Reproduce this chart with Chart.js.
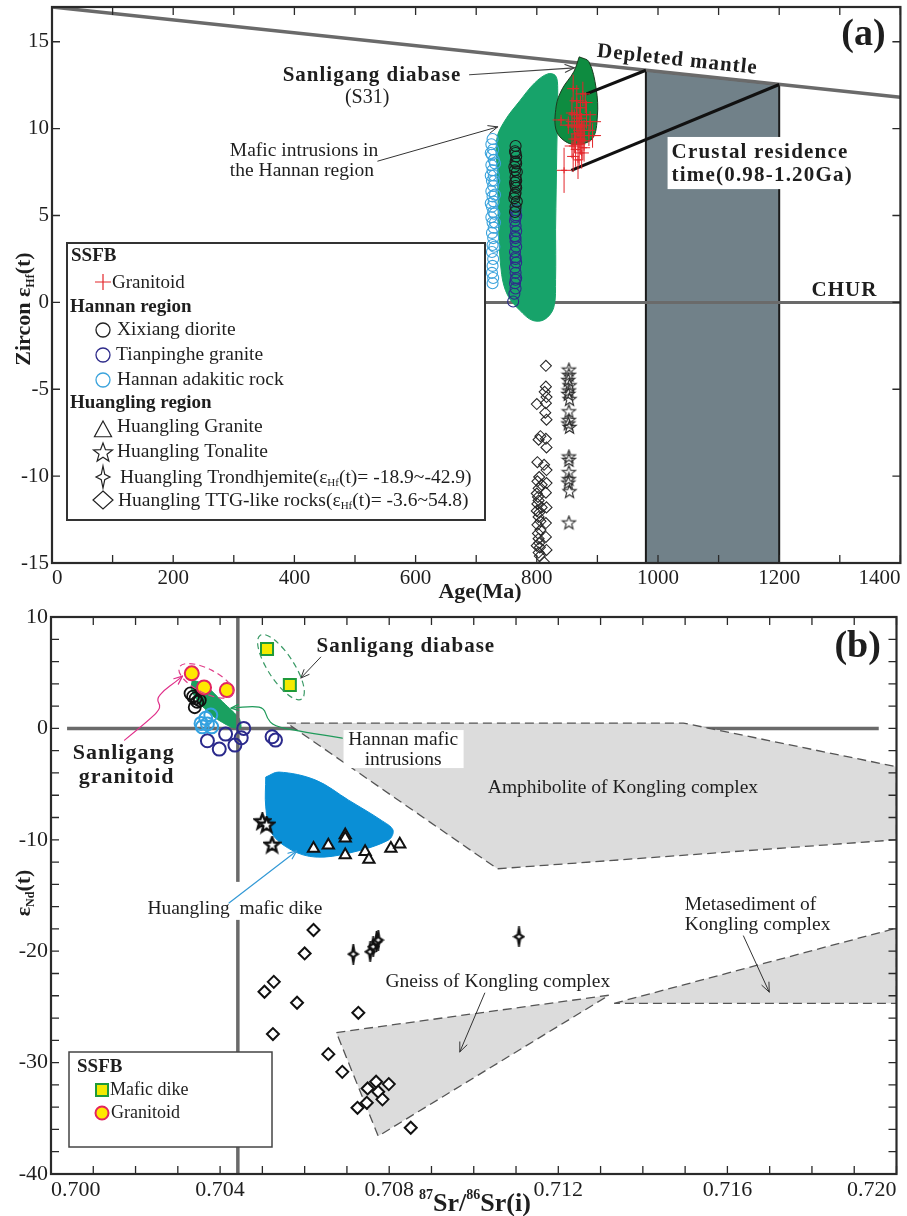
<!DOCTYPE html>
<html>
<head>
<meta charset="utf-8">
<script src="https://cdn.jsdelivr.net/npm/chart.js@4.4.0/dist/chart.umd.min.js"></script>
<style>
  html, body { margin: 0; padding: 0; background: #fff; }
  #wrap { position: relative; width: 907px; height: 1216px; overflow: hidden; }
  #chartA { position: absolute; left: 0; top: 0; }
  #chartB { position: absolute; left: 0; top: 600px; }
</style>
</head>
<body>
<div id="wrap">
  <canvas id="chartA" width="907" height="610"></canvas>
  <canvas id="chartB" width="907" height="616"></canvas>
</div>
<script>
// ---------------- panel (a): age (Ma) vs zircon eHf(t) ----------------
const dmLine = [[0, 17.0], [1400, 11.8]];
const churLine = [[716, 0], [1400, 0]];
const residenceBox = [[980, -15], [980, 13.36], [1200, 12.54], [1200, -15], [980, -15]];
const residenceLink1 = [[882, 12.0], [980, 13.36]];
const residenceLink2 = [[857, 7.6], [1200, 12.54]];
const hannanFieldA = [[831, 4.21], [831, 1.32], [828, -0.29], [813, -0.98], [793, -1.04], [772, -0.46], [752, 0.40],
  [742, 1.61], [737, 4.21], [735.5, 7.1], [734, 9.4], [747, 10.44], [772, 11.6], [796.5, 12.63], [818, 13.15],
  [831, 13.04], [834.5, 12.29], [833, 8.83], [831, 4.21]];
const s31Field = [[870, 14.13], [886, 13.85], [898, 12.29], [900, 10.73], [891, 9.4], [858, 9.1], [833, 9.81],
  [832, 11.3], [842, 12.29], [861, 13.27], [870, 14.13]];
const granitoidA = [[862, 10.4], [866, 10.1], [870, 10.6], [858, 10.9], [874, 10.2], [868, 9.7], [862, 9.4], [878, 9.9],
  [852, 10.2], [872, 11.2], [882, 10.8], [866, 11.6], [860, 12.3], [876, 12.0], [886, 9.6], [870, 9.1], [864, 8.8],
  [874, 8.6], [868, 8.2], [878, 8.9], [858, 9.0], [888, 10.4], [840, 10.5], [845, 7.6], [872, 9.4], [866, 10.8],
  [880, 11.5], [892, 9.6], [876, 9.3], [860, 8.4]];
const granAgeErr = [14, 16, 12, 10, 15, 12, 10, 18, 14, 10, 16, 12, 10, 12, 20, 10, 8, 12, 8, 10, 12, 18, 14, 12, 10, 14, 12, 12, 14, 10];
const granEpsErr = [0.7, 0.8, 0.6, 0.9, 0.7, 1.0, 0.8, 0.6, 0.5, 0.7, 0.8, 0.9, 0.8, 0.7, 0.6, 1.2, 1.0, 0.9, 1.1, 0.8,
  0.7, 0.6, 0.3, 1.3, 0.9, 0.8, 0.6, 0.7, 1.1, 0.9];
const adakiticA = [[727, 9.4], [725, 9.1], [728, 8.8], [726, 8.5], [729, 8.2], [725, 7.9], [727, 7.6], [729, 7.3], [726, 7.0],
  [728, 6.7], [725, 6.4], [727, 6.1], [729, 5.8], [726, 5.5], [728, 5.2], [725, 4.9], [727, 4.6], [729, 4.3], [726, 4.0],
  [728, 3.7], [727, 3.3], [726, 2.9], [728, 2.5], [727, 2.1], [726, 1.7], [728, 1.4], [727, 1.1], [731, 8.0], [731, 6.2],
  [731, 4.6], [730, 3.2], [724, 7.3], [724, 5.7], [724, 8.6], [730, 7.0], [730, 5.1]];
const xixiangA = [[765, 9.0], [764, 8.7], [766, 8.4], [765, 8.1], [763, 7.8], [767, 7.5], [765, 7.2], [764, 6.9], [766, 6.6],
  [765, 6.3], [763, 6.0], [767, 5.8], [765, 5.5], [764, 7.6], [766, 8.0], [765, 6.7], [764, 6.2], [766, 7.0], [765, 8.6], [764, 5.2]];
const tianpingheA = [[765, 5.3], [766, 5.0], [764, 4.7], [765, 4.4], [766, 4.1], [764, 3.8], [765, 3.5], [766, 3.2], [764, 2.9],
  [765, 2.6], [766, 2.3], [764, 2.0], [765, 1.7], [766, 1.4], [764, 1.1], [765, 0.8], [763, 0.5], [761, 0.05], [765, 4.9],
  [765, 3.7], [765, 2.5], [765, 1.3]];
const ttgA = [[815, -3.65], [815, -4.85], [813, -5.15], [816, -5.45], [815, -5.8], [800, -5.85], [814, -6.35], [816, -6.75],
  [806, -7.7], [803, -7.9], [815, -7.85], [816, -8.35], [801, -9.2], [812, -9.35], [816, -9.65], [804, -10.05], [816, -10.4],
  [803, -10.7], [815, -10.95], [803, -11.4], [816, -11.8], [803, -12.35], [815, -12.7], [806, -13.1], [815, -13.5], [804, -13.85],
  [816, -14.25], [805, -14.6], [812, -14.95], [800, -11.0], [800, -12.0], [802, -13.3], [800, -14.0], [808, -11.8], [801, -10.3],
  [806, -12.6], [808, -10.5], [801, -11.6], [803, -14.4], [802, -11.2], [804, -12.1], [801, -12.8], [803, -13.6], [805, -14.1]];
const tonaliteA = [[853, -3.9], [853, -4.2], [852, -4.5], [854, -4.8], [853, -5.1], [852, -5.3], [854, -5.6], [853, -6.3],
  [853, -6.8], [852, -7.0], [854, -7.2], [853, -8.9], [853, -9.1], [853, -9.8], [853, -10.2], [852, -10.4], [854, -10.9], [853, -12.7]];

// ---------------- panel (b): 87Sr/86Sr(i) vs eNd(t) ----------------
const zeroLineB = [[0.70038, 0], [0.71958, 0]];
const vertLineB = [[0.70442, 10], [0.70442, -40]];
const amphibolite = [[0.70558, 0.48], [0.71496, 0.48], [0.720, -3.44], [0.720, -10.0], [0.71056, -12.6], [0.70558, 0.48]];
const gneiss = [[0.70675, -27.3], [0.71320, -23.95], [0.70774, -36.6], [0.70675, -27.3]];
const metasediment = [[0.71332, -24.68], [0.720, -17.93], [0.720, -24.68], [0.71332, -24.68]];
const maficDike = [[0.70508, -4.37], [0.70539, -3.92], [0.70626, -4.64], [0.70704, -6.44], [0.70781, -8.24], [0.70809, -9.13],
  [0.70798, -10.03], [0.70704, -11.2], [0.70626, -11.55], [0.70569, -10.92], [0.70522, -9.4], [0.70508, -7.05], [0.70508, -4.37]];
const hannanFieldB = [[0.70334, 4.34], [0.70362, 3.98], [0.70409, 2.27], [0.70445, 0.92], [0.70449, 0.03], [0.70426, 0.12],
  [0.70386, 1.01], [0.70351, 2.27], [0.70332, 3.44], [0.70334, 4.34]];
const granitoidB = [[0.70333, 4.94], [0.70362, 3.68], [0.70416, 3.44]];
const diabaseB = [[0.70511, 7.12], [0.70565, 3.89]];
const xixiangB = [[0.70330, 3.15], [0.70342, 2.70], [0.70352, 2.52], [0.70340, 1.90], [0.70346, 2.38], [0.70336, 2.85]];
const adakiticB = [[0.70355, 0.45], [0.70366, 0.90], [0.70380, 0.14], [0.70358, 0.14], [0.70378, 1.20], [0.70370, 0.40]];
const tianpingheB = [[0.70370, -1.11], [0.70398, -1.86], [0.70413, -0.51], [0.70435, -1.5], [0.70450, -0.84], [0.70456, 0.0],
  [0.70523, -0.75], [0.70531, -1.05]];
const tonaliteB = [[0.70500, -8.38], [0.70510, -8.68], [0.70523, -10.48]];
const graniteB = [[0.70621, -10.77], [0.70656, -10.48], [0.70696, -9.58], [0.70696, -9.85], [0.70696, -11.37], [0.70743, -11.08],
  [0.70752, -11.76], [0.70804, -10.77], [0.70825, -10.41]];
const ttgB = [[0.70621, -18.1], [0.70600, -20.2], [0.70527, -22.75], [0.70505, -23.64], [0.70582, -24.63], [0.70727, -25.53],
  [0.70525, -27.44], [0.70656, -29.24], [0.70689, -30.83], [0.70749, -32.32], [0.70769, -31.72], [0.70799, -31.93],
  [0.70774, -32.62], [0.70784, -33.3], [0.70725, -34.06], [0.70747, -33.61], [0.70851, -35.85]];
const trondhjemiteB = [[0.70715, -20.26], [0.70755, -20.05], [0.70762, -19.6], [0.70770, -19.16], [0.70774, -19.0], [0.71107, -18.7]];

// ---------------- helpers ----------------
const SERIF = '"Liberation Serif", "Times New Roman", serif';
const INK = '#1e1e1e';
const RED = '#e3262b';
const f = (size, bold) => (bold ? 'bold ' : '') + size + 'px ' + SERIF;
const xy = arr => arr.map(p => ({ x: p[0], y: p[1] }));

function symPath(ctx, kind, x, y, o) {
  ctx.beginPath();
  if (kind === 'circle') ctx.arc(x, y, o.r, 0, 2 * Math.PI);
  else if (kind === 'square') ctx.rect(x - o.r, y - o.r, 2 * o.r, 2 * o.r);
  else if (kind === 'diamond') {
    ctx.moveTo(x, y - o.h); ctx.lineTo(x + o.w, y); ctx.lineTo(x, y + o.h); ctx.lineTo(x - o.w, y); ctx.closePath();
  } else if (kind === 'triangle') {
    ctx.moveTo(x, y - o.r); ctx.lineTo(x + o.r * 0.95, y + o.r * 0.75); ctx.lineTo(x - o.r * 0.95, y + o.r * 0.75); ctx.closePath();
  } else if (kind === 'star') {
    for (let i = 0; i < 10; i++) {
      const rad = i % 2 ? o.r * 0.42 : o.r, a = -Math.PI / 2 + i * Math.PI / 5;
      ctx.lineTo(x + rad * Math.cos(a), y + rad * Math.sin(a));
    }
    ctx.closePath();
  } else if (kind === 'sparkle') {
    const k = 0.25;
    ctx.moveTo(x, y - o.h); ctx.lineTo(x + o.w * k, y - o.h * k); ctx.lineTo(x + o.w, y); ctx.lineTo(x + o.w * k, y + o.h * k);
    ctx.lineTo(x, y + o.h); ctx.lineTo(x - o.w * k, y + o.h * k); ctx.lineTo(x - o.w, y); ctx.lineTo(x - o.w * k, y - o.h * k);
    ctx.closePath();
  } else if (kind === 'cross') {
    ctx.moveTo(x - o.r, y); ctx.lineTo(x + o.r, y); ctx.moveTo(x, y - o.r); ctx.lineTo(x, y + o.r);
  }
}
function drawSym(ctx, kind, x, y, o) {
  ctx.save();
  ctx.lineWidth = o.lw || 1; ctx.strokeStyle = o.stroke || INK; ctx.lineJoin = 'miter';
  symPath(ctx, kind, x, y, o);
  if (o.fill) { ctx.fillStyle = o.fill; ctx.fill(); }
  ctx.stroke();
  ctx.restore();
}
function symCanvas(w, h, kind, o) {
  const c = document.createElement('canvas');
  c.width = w; c.height = h;
  drawSym(c.getContext('2d'), kind, w / 2, h / 2, o);
  return c;
}
const starA = symCanvas(17, 17, 'star', { r: 7, stroke: '#2a2a2a', lw: 1.1 });
const starB = symCanvas(19, 19, 'star', { r: 8, stroke: '#111', lw: 2.4, fill: '#fff' });
const sparkleB = symCanvas(13, 21, 'sparkle', { w: 4.5, h: 8.5, stroke: '#111', lw: 2.2, fill: '#fff' });

function label(ctx, s, p, font, align, rot, spacing) {
  ctx.save();
  ctx.translate(p[0], p[1]);
  if (rot) ctx.rotate(rot);
  ctx.font = font; ctx.fillStyle = INK;
  if (spacing) ctx.letterSpacing = spacing + 'px';
  ctx.textAlign = align || 'left'; ctx.textBaseline = 'middle';
  ctx.fillText(s, 0, 0);
  ctx.restore();
}
// parts: [text, size, bold, dy]; drawn on an alphabetic baseline
function rich(ctx, parts, x, y, align) {
  let w = 0;
  parts.forEach(p => { ctx.font = f(p[1], p[2]); w += ctx.measureText(p[0]).width; });
  let cx = align === 'center' ? x - w / 2 : x;
  ctx.textAlign = 'left'; ctx.textBaseline = 'alphabetic'; ctx.fillStyle = INK;
  parts.forEach(p => {
    ctx.font = f(p[1], p[2]);
    ctx.fillText(p[0], cx, y + (p[3] || 0));
    cx += ctx.measureText(p[0]).width;
  });
}
function curve(ctx, pts, color, lw, head) {
  ctx.save();
  ctx.strokeStyle = color; ctx.lineWidth = lw; ctx.lineJoin = 'round'; ctx.lineCap = 'round';
  ctx.beginPath(); ctx.moveTo(pts[0][0], pts[0][1]);
  for (let i = 1; i < pts.length - 1; i++) {
    ctx.quadraticCurveTo(pts[i][0], pts[i][1], (pts[i][0] + pts[i + 1][0]) / 2, (pts[i][1] + pts[i + 1][1]) / 2);
  }
  const n = pts.length;
  ctx.lineTo(pts[n - 1][0], pts[n - 1][1]);
  ctx.stroke();
  if (head) {
    const [x2, y2] = pts[n - 1], [x1, y1] = pts[n - 2];
    const a = Math.atan2(y2 - y1, x2 - x1);
    ctx.beginPath();
    ctx.moveTo(x2 - head * Math.cos(a - 0.4), y2 - head * Math.sin(a - 0.4));
    ctx.lineTo(x2, y2);
    ctx.lineTo(x2 - head * Math.cos(a + 0.4), y2 - head * Math.sin(a + 0.4));
    ctx.stroke();
  }
  ctx.restore();
}
function ellipse(ctx, c, a, b, rot, color) {
  ctx.save();
  ctx.strokeStyle = color; ctx.lineWidth = 1.2; ctx.setLineDash([6, 4]);
  ctx.beginPath(); ctx.ellipse(c[0], c[1], a, b, rot, 0, 2 * Math.PI); ctx.stroke();
  ctx.restore();
}
function frame(chart) {
  const { ctx, chartArea: a } = chart, xs = chart.scales.x, ys = chart.scales.y, len = 8;
  ctx.save();
  ctx.strokeStyle = '#2a2a2a'; ctx.lineWidth = 1.3; ctx.beginPath();
  xs.ticks.forEach(t => {
    const px = xs.getPixelForValue(t.value);
    ctx.moveTo(px, a.bottom); ctx.lineTo(px, a.bottom - len);
    ctx.moveTo(px, a.top); ctx.lineTo(px, a.top + len);
  });
  ys.ticks.forEach(t => {
    const py = ys.getPixelForValue(t.value);
    ctx.moveTo(a.left, py); ctx.lineTo(a.left + len, py);
    ctx.moveTo(a.right, py); ctx.lineTo(a.right - len, py);
  });
  ctx.stroke();
  ctx.lineWidth = 2.2;
  ctx.strokeRect(a.left, a.top, a.right - a.left, a.bottom - a.top);
  ctx.restore();
}

function shapeDS(label, data, fill, stroke, extra) {
  return Object.assign({ type: 'line', label, data: xy(data), fill: 'shape', backgroundColor: fill,
    borderColor: stroke, borderWidth: 1, pointRadius: 0, tension: 0 }, extra || {});
}
function lineDS(label, data, color, width) {
  return { type: 'line', label, data: xy(data), fill: false, borderColor: color, borderWidth: width, pointRadius: 0, tension: 0 };
}
function pointDS(label, data, style, extra) {
  return Object.assign({ type: 'scatter', label, data: xy(data), pointStyle: style, showLine: false,
    backgroundColor: 'rgba(0,0,0,0)' }, extra);
}
function axis(min, max, step, size, fixed, cb, extraTicks) {
  return {
    type: 'linear', min, max,
    grid: { display: false, drawTicks: false }, border: { display: false },
    ticks: Object.assign({ stepSize: step, autoSkip: false, maxRotation: 0, includeBounds: false, padding: 3,
      color: INK, font: { family: SERIF, size }, callback: cb }, extraTicks || {}),
    afterFit: s => {
      if (s.isHorizontal()) s.height = fixed; else s.width = fixed;
      s.paddingTop = 0; s.paddingBottom = 0; s.paddingLeft = 0; s.paddingRight = 0;
    }
  };
}
function baseOptions(pad, scales) {
  return {
    responsive: false, animation: false, devicePixelRatio: 1, events: [],
    layout: { padding: pad },
    plugins: { legend: { display: false }, tooltip: { enabled: false } },
    scales
  };
}

// ---------------- chart (a) ----------------
const decorA = {
  id: 'decorA',
  afterDatasetsDraw(chart) {
    const ctx = chart.ctx, xs = chart.scales.x, ys = chart.scales.y;
    const P = (a, e) => [xs.getPixelForValue(a), ys.getPixelForValue(e)];
    ctx.save(); ctx.strokeStyle = RED; ctx.lineWidth = 1; ctx.beginPath();
    granitoidA.forEach((p, i) => {
      const [x, y] = P(p[0], p[1]);
      const dx = xs.getPixelForValue(p[0] + granAgeErr[i]) - x;
      const dy = y - ys.getPixelForValue(p[1] + granEpsErr[i]);
      ctx.moveTo(x - dx, y); ctx.lineTo(x + dx, y); ctx.moveTo(x, y - dy); ctx.lineTo(x, y + dy);
    });
    ctx.stroke(); ctx.restore();

    const d0 = P(dmLine[0][0], dmLine[0][1]), d1 = P(dmLine[1][0], dmLine[1][1]);
    const ang = Math.atan2(d1[1] - d0[1], d1[0] - d0[0]);
    label(ctx, '(a)', P(1339, 15.35), f(38, true), 'center');
    label(ctx, 'Depleted mantle', P(1032, 13.95), f(21, true), 'center', ang, 1);
    label(ctx, 'Sanligang diabase', P(528, 13.04), f(21, true), 'center', 0, 1);
    label(ctx, '(S31)', P(520, 11.77), f(20), 'center');
    curve(ctx, [P(689, 13.1), P(862, 13.5)], '#444', 1.2, 10);
    label(ctx, 'Mafic intrusions in', P(293.5, 8.71), f(19.5));
    label(ctx, 'the Hannan region', P(293.5, 7.56), f(19.5));
    curve(ctx, [P(537.6, 8.13), P(735.5, 10.1)], '#333', 1, 10);
    const b0 = P(1015.8, 9.52), b1 = P(1324.2, 6.52);
    ctx.fillStyle = '#fff'; ctx.fillRect(b0[0], b0[1], b1[0] - b0[0], b1[1] - b0[1]);
    label(ctx, 'Crustal residence', P(1022.4, 8.65), f(21, true), 'left', 0, 1.2);
    label(ctx, 'time(0.98-1.20Ga)', P(1022.4, 7.27), f(21, true), 'left', 0, 1.2);
    label(ctx, 'CHUR', P(1307.7, 0.69), f(21, true), 'center', 0, 1);
  },
  afterDraw(chart) {
    const ctx = chart.ctx;
    ctx.save();
    ctx.fillStyle = '#fff'; ctx.fillRect(67, 243, 418, 277);
    ctx.strokeStyle = '#333'; ctx.lineWidth = 2; ctx.strokeRect(67, 243, 418, 277);
    label(ctx, 'SSFB', [71, 256], f(19, true));
    drawSym(ctx, 'cross', 103, 282, { r: 8, stroke: RED, lw: 1.2 });
    label(ctx, 'Granitoid', [112, 283], f(19));
    label(ctx, 'Hannan region', [70, 307], f(19, true));
    drawSym(ctx, 'circle', 103, 330, { r: 7, stroke: '#222', lw: 1.3 });
    label(ctx, 'Xixiang diorite', [117, 330], f(19.5));
    drawSym(ctx, 'circle', 103, 355, { r: 7, stroke: '#2e2b8a', lw: 1.3 });
    label(ctx, 'Tianpinghe granite', [116, 355], f(19.5));
    drawSym(ctx, 'circle', 103, 380, { r: 7, stroke: '#3ba3dc', lw: 1.3 });
    label(ctx, 'Hannan adakitic rock', [117, 380], f(19.5));
    label(ctx, 'Huangling region', [70, 403], f(19, true));
    drawSym(ctx, 'triangle', 103, 430, { r: 9, stroke: '#222', lw: 1.2 });
    label(ctx, 'Huangling Granite', [117, 427], f(19.5));
    drawSym(ctx, 'star', 103, 453, { r: 10, stroke: '#222', lw: 1.2 });
    label(ctx, 'Huangling Tonalite', [117, 452], f(19.5));
    drawSym(ctx, 'sparkle', 103, 477, { w: 7, h: 11, stroke: '#222', lw: 1.2 });
    rich(ctx, [['Huangling Trondhjemite(ε', 19.5], ['Hf', 11, false, 3], ['(t)= -18.9~-42.9)', 19.5]], 120, 483);
    drawSym(ctx, 'diamond', 103, 500, { w: 10, h: 9, stroke: '#222', lw: 1.2 });
    rich(ctx, [['Huangling TTG-like rocks(ε', 19.5], ['Hf', 11, false, 3], ['(t)= -3.6~54.8)', 19.5]], 118, 506);

    label(ctx, 'Age(Ma)', [480, 592], f(22, true), 'center');
    ctx.translate(22, 309); ctx.rotate(-Math.PI / 2);
    rich(ctx, [['Zircon ε', 22, true], ['Hf', 12, true, 4], ['(t)', 22, true]], 0, 8, 'center');
    ctx.restore();
    frame(chart);
  }
};

const layersA = [
  shapeDS('Crustal residence time', residenceBox, '#718189', '#1a1a1a', { borderWidth: 2 }),
  lineDS('CHUR', churLine, '#6a6a6a', 3),
  lineDS('Depleted mantle', dmLine, '#6a6a6a', 3.5),
  shapeDS('Mafic intrusions in the Hannan region', hannanFieldA, '#17a36a', '#17a36a', { tension: 0.35 }),
  shapeDS('Sanligang diabase (S31)', s31Field, '#0e8c40', '#1d3a20', { tension: 0.35 }),
  lineDS('residence link 1', residenceLink1, '#111', 3),
  lineDS('residence link 2', residenceLink2, '#111', 3),
  pointDS('Hannan adakitic rock', adakiticA, 'circle', { pointRadius: 5.5, borderColor: '#3ba3dc', borderWidth: 1.1 }),
  pointDS('Tianpinghe granite', tianpingheA, 'circle', { pointRadius: 5.5, borderColor: '#2e2b8a', borderWidth: 1.1 }),
  pointDS('Xixiang diorite', xixiangA, 'circle', { pointRadius: 5.5, borderColor: '#1a1a1a', borderWidth: 1.1 }),
  pointDS('Huangling TTG-like rocks', ttgA, 'rectRot', { pointRadius: 5.5, borderColor: '#2a2a2a', borderWidth: 1.1 }),
  pointDS('Huangling Tonalite', tonaliteA, starA, {}),
  pointDS('Granitoid', granitoidA, 'cross', { pointRadius: 3, borderColor: RED, borderWidth: 1 })
];

new Chart(document.getElementById('chartA'), {
  type: 'scatter',
  data: { datasets: layersA.slice().reverse() },
  options: baseOptions({ top: 7, right: 6, left: 0, bottom: 0 }, {
    x: axis(0, 1400, 100, 21, 47, v => (v % 200 === 0 ? String(v) : ''), { align: 'inner' }),
    y: axis(-15, 17, 5, 21, 52, v => String(v))
  }),
  plugins: [decorA]
});

// ---------------- chart (b) ----------------
const decorB = {
  id: 'decorB',
  afterDatasetsDraw(chart) {
    const ctx = chart.ctx, xs = chart.scales.x, ys = chart.scales.y;
    const P = (a, e) => [xs.getPixelForValue(a), ys.getPixelForValue(e)];
    label(ctx, '(b)', P(0.71908, 7.3), f(38, true), 'center');
    label(ctx, 'Sanligang diabase', P(0.70628, 7.3), f(21, true), 'left', 0, 1);
    curve(ctx, [P(0.70638, 6.40), P(0.70591, 4.52)], '#333', 1, 9);
    ellipse(ctx, P(0.70544, 5.50), 38, 13, 57 * Math.PI / 180, '#3a9a66');
    ellipse(ctx, P(0.70367, 4.27), 30, 12, 27 * Math.PI / 180, '#e0408a');
    label(ctx, 'Sanligang', P(0.70172, -2.22), f(22, true), 'center', 0, 1);
    label(ctx, 'granitoid', P(0.70179, -4.35), f(22, true), 'center', 0, 1);
    curve(ctx, [P(0.70174, -1.05), P(0.70238, 0.92), P(0.70261, 1.91), P(0.70249, 2.63), P(0.70268, 3.44),
      P(0.70294, 4.16), P(0.70311, 4.69)], '#e0308a', 1.2, 9);
    const h0 = P(0.70692, -0.15), h1 = P(0.70976, -3.56);
    ctx.fillStyle = '#fff'; ctx.fillRect(h0[0], h0[1], h1[0] - h0[0], h1[1] - h0[1]);
    label(ctx, 'Hannan mafic', P(0.70833, -1.05), f(19.5), 'center');
    label(ctx, 'intrusions', P(0.70833, -2.85), f(19.5), 'center');
    curve(ctx, [P(0.70689, -0.87), P(0.70586, -0.24), P(0.70527, 0.21), P(0.70511, 0.92), P(0.70504, 1.82),
      P(0.70480, 2.0), P(0.70426, 1.82)], '#1f9a5a', 1.2, 8);
    label(ctx, 'Amphibolite of Kongling complex', P(0.71353, -5.35), f(19.5), 'center');
    const m = P(0.70228, -16.2);
    ctx.font = f(19.5);
    const mw = ctx.measureText('Huangling  mafic dike').width;
    ctx.fillStyle = '#fff'; ctx.fillRect(m[0] - 3, m[1] - 27, mw + 6, 38);
    label(ctx, 'Huangling  mafic dike', m, f(19.5));
    curve(ctx, [P(0.70421, -15.67), P(0.70581, -11.0)], '#3399d6', 1.2, 9);
    label(ctx, 'Gneiss of Kongling complex', P(0.70791, -22.77), f(19.5));
    curve(ctx, [P(0.71026, -23.76), P(0.70967, -29.04)], '#333', 1, 10);
    label(ctx, 'Metasediment of', P(0.71499, -15.85), f(19.5));
    label(ctx, 'Kongling complex', P(0.71499, -17.65), f(19.5));
    curve(ctx, [P(0.71638, -18.63), P(0.71699, -23.67)], '#333', 1, 10);
  },
  afterDraw(chart) {
    const ctx = chart.ctx;
    ctx.save();
    ctx.fillStyle = '#fff'; ctx.fillRect(69, 452, 203, 95);
    ctx.strokeStyle = '#444'; ctx.lineWidth = 1.5; ctx.strokeRect(69, 452, 203, 95);
    label(ctx, 'SSFB', [77, 467], f(19, true));
    drawSym(ctx, 'square', 102, 490, { r: 6, stroke: '#1f9a3a', lw: 2, fill: '#f4ea00' });
    label(ctx, 'Mafic dike', [110, 490], f(18));
    drawSym(ctx, 'circle', 102, 513, { r: 6.5, stroke: '#e3245e', lw: 2, fill: '#ffe800' });
    label(ctx, 'Granitoid', [111, 513], f(18));

    rich(ctx, [['87', 14, true, -12], ['Sr/', 26, true], ['86', 14, true, -12], ['Sr(i)', 26, true]], 475, 611, 'center');
    ctx.translate(22, 293); ctx.rotate(-Math.PI / 2);
    rich(ctx, [['ε', 22, true], ['Nd', 12, true, 4], ['(t)', 22, true]], 0, 8, 'center');
    ctx.restore();
    frame(chart);
  }
};

const layersB = [
  lineDS('zero line', zeroLineB, '#6a6a6a', 3.5),
  shapeDS('Amphibolite of Kongling complex', amphibolite, '#dcdcdc', '#555', { borderDash: [9, 5], borderWidth: 1.3 }),
  shapeDS('Gneiss of Kongling complex', gneiss, '#dcdcdc', '#555', { borderDash: [9, 5], borderWidth: 1.3 }),
  shapeDS('Metasediment of Kongling complex', metasediment, '#dcdcdc', '#555', { borderDash: [9, 5], borderWidth: 1.3 }),
  shapeDS('Huangling mafic dike', maficDike, '#0a8fd6', '#0a8fd6', { tension: 0.35 }),
  shapeDS('Hannan mafic intrusions', hannanFieldB, '#1aa060', '#1aa060', { tension: 0.2 }),
  lineDS('vertical line', vertLineB, '#6a6a6a', 3.5),
  pointDS('Tianpinghe granite', tianpingheB, 'circle', { pointRadius: 6.5, borderColor: '#2b2a8c', borderWidth: 2 }),
  pointDS('Hannan adakitic rock', adakiticB, 'circle', { pointRadius: 6.5, borderColor: '#35a2e0', borderWidth: 2 }),
  pointDS('Xixiang diorite', xixiangB, 'circle', { pointRadius: 6, borderColor: '#111', borderWidth: 1.8 }),
  pointDS('Granitoid', granitoidB, 'circle', { pointRadius: 7, borderColor: '#e3245e', borderWidth: 2, backgroundColor: '#ffe800' }),
  pointDS('Mafic dike', diabaseB, 'rect', { pointRadius: 8.5, borderColor: '#1f9a3a', borderWidth: 2, backgroundColor: '#f4ea00' }),
  pointDS('Huangling Granite', graniteB, 'triangle', { pointRadius: 6.5, borderColor: '#111', borderWidth: 2, backgroundColor: '#fff' }),
  pointDS('Huangling Tonalite', tonaliteB, starB, {}),
  pointDS('Huangling TTG-like rocks', ttgB, 'rectRot', { pointRadius: 6, borderColor: '#111', borderWidth: 2, backgroundColor: '#fff' }),
  pointDS('Huangling Trondhjemite', trondhjemiteB, sparkleB, {})
];

new Chart(document.getElementById('chartB'), {
  type: 'scatter',
  data: { datasets: layersB.slice().reverse() },
  options: baseOptions({ top: 17, right: 6, left: 0, bottom: 0 }, {
    x: axis(0.700, 0.720, 0.001, 22, 42, v => {
      const k = Math.round(v * 1000);
      return k % 4 === 0 ? (k / 1000).toFixed(3) : '';
    }, { align: 'inner' }),
    y: axis(-40, 10, 2, 22, 51, v => (Math.round(v) % 10 === 0 ? String(Math.round(v)) : ''))
  }),
  plugins: [decorB]
});
</script>
</body>
</html>
